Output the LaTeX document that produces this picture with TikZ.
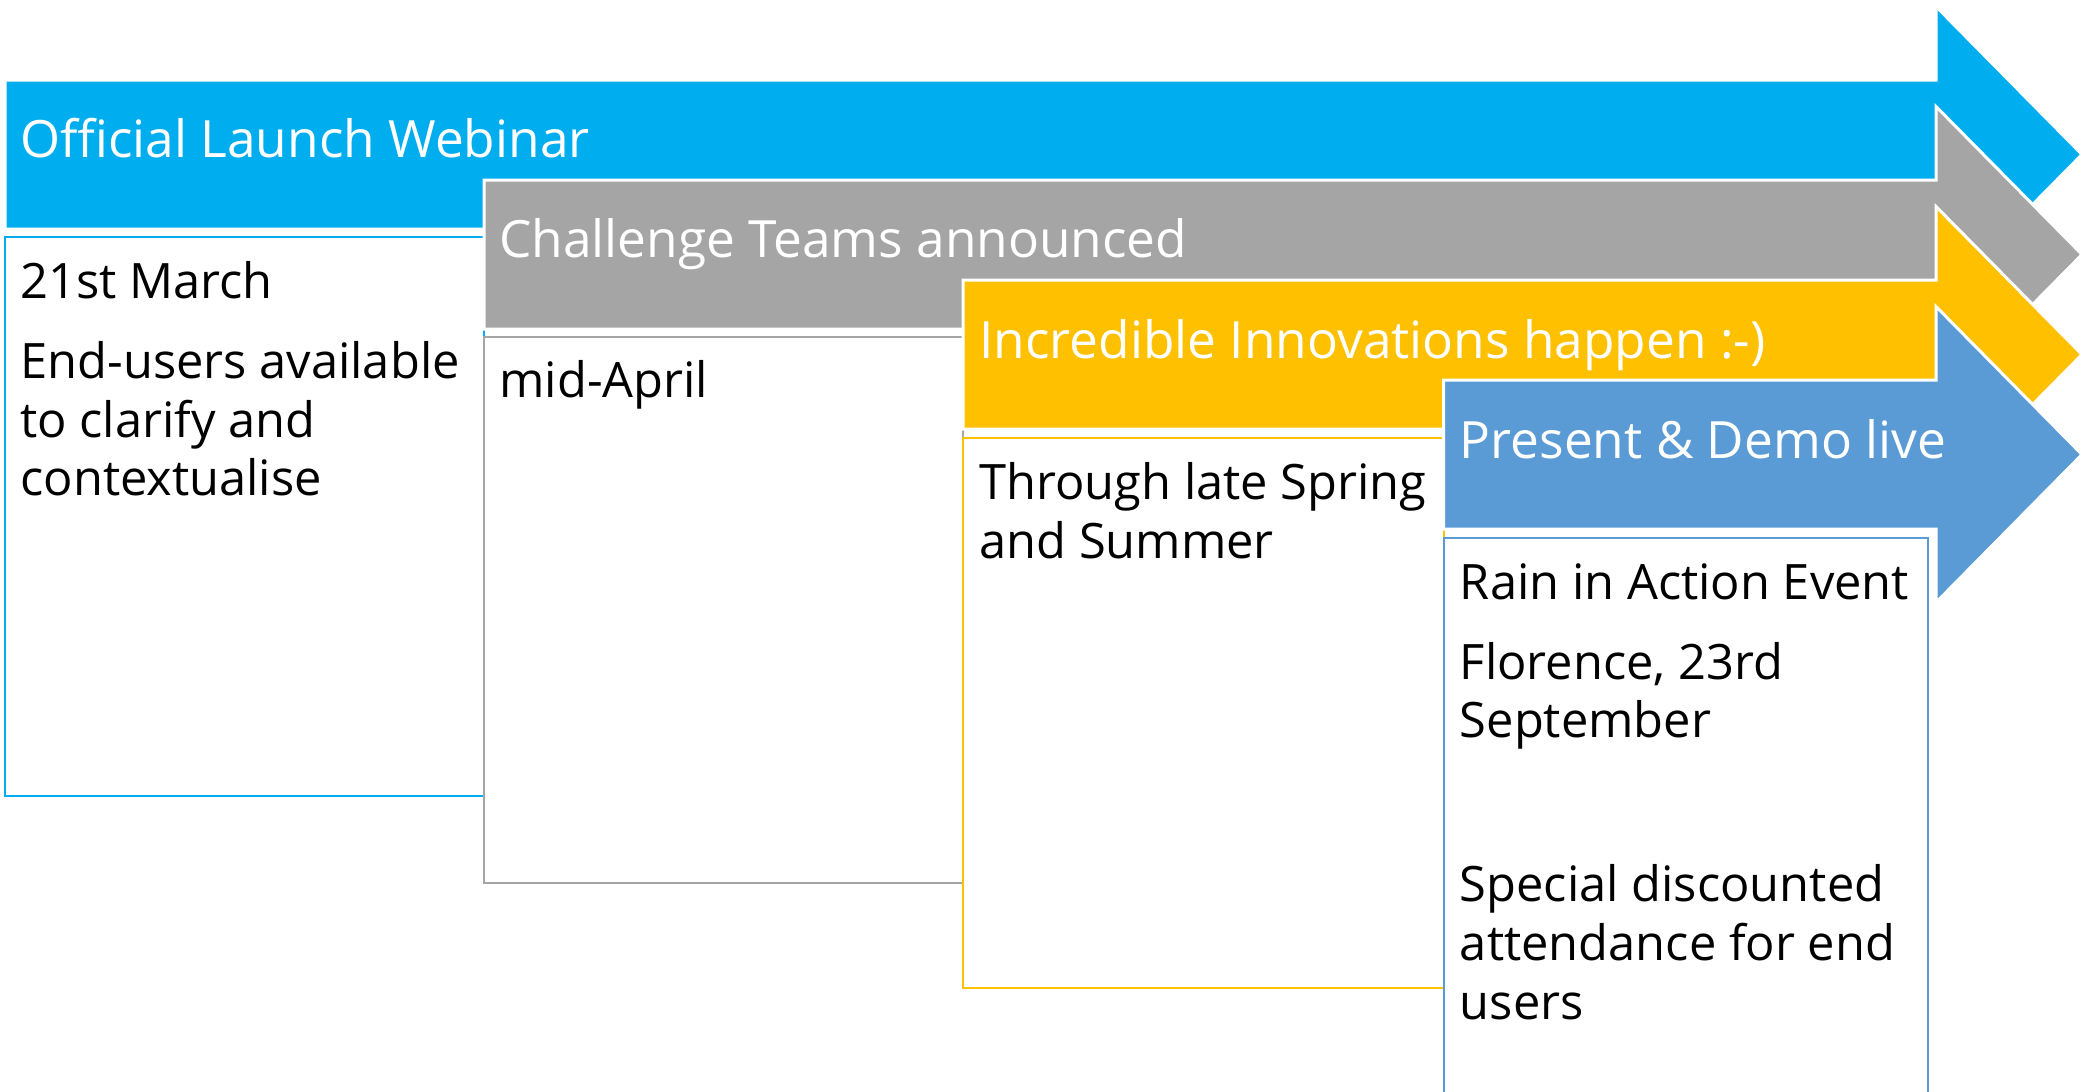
\documentclass[tikz,border=0pt]{standalone}
\usepackage{fontspec}
\setmainfont{Open Sans}
\usepackage{tikz}
\usetikzlibrary{positioning}

\definecolor{launchblue}{HTML}{00AEEF}
\definecolor{teamgrey}{HTML}{A5A5A5}
\definecolor{innogold}{HTML}{FFC000}
\definecolor{demoblue}{HTML}{5B9BD5}

\begin{document}
\begin{tikzpicture}[
    x=0.5pt, y=-0.5pt,
    stage/.style={draw=white, line width=1.5pt, line join=miter},
    card/.style={fill=white, line width=1pt},
    head/.style={anchor=base west, inner sep=0pt, text=white, font=\fontsize{25.7}{30}\selectfont},
    note/.style={anchor=base west, inner sep=0pt, align=left, font=\fontsize{24.4}{29.3}\selectfont}
]
\useasboundingbox (0,0) rectangle (2088,1092);
% stage 1
\draw[stage, fill=launchblue] (5,80) -- (1936,80) -- (1936,6.5) -- (2082,154.5) -- (1936,302.5) -- (1936,229) -- (5,229) -- cycle;
\node[head] (webinar) at (20,157) {Official Launch Webinar};
\draw[card, draw=launchblue] (5,237) rectangle (483.5,796);
\node[note] (march) at (20,495.7) {21st March\\[10.7pt]
    End-users available\\
    to clarify and\\
    contextualise};
% stage 2
\draw[stage, fill=teamgrey] (484,180) -- (1936,180) -- (1936,106.5) -- (2082,254.5) -- (1936,402.5) -- (1936,329) -- (484,329) -- cycle;
\node[head] (teams) at (499,257) {Challenge Teams announced};
\draw[card, draw=teamgrey] (484,337) rectangle (963,883);
\node[note] (april) at (499,397) {mid-April};
% stage 3
\draw[stage, fill=innogold] (963,280) -- (1936,280) -- (1936,206.5) -- (2082,354.5) -- (1936,502.5) -- (1936,429) -- (963,429) -- cycle;
\node[head] (innov) at (979,358) {Incredible Innovations happen :-)};
\draw[card, draw=innogold] (963,438) rectangle (1443.5,988);
\node[note] (summer) at (979,558) {Through late Spring\\
    and Summer};
% stage 4
\draw[stage, fill=demoblue] (1443.5,380) -- (1936,380) -- (1936,306.5) -- (2082,454.5) -- (1936,602.5) -- (1936,529) -- (1443.5,529) -- cycle;
\node[head] (demo) at (1459.5,458) {Present \& Demo live};
\draw[card, draw=demoblue] (1443.5,538) rectangle (1927.5,1110);
\node[note] (event) at (1459.5,1019) {Rain in Action Event\\[10.7pt]
    Florence, 23rd\\
    September\\[52.7pt]
    Special discounted\\
    attendance for end\\
    users};
\end{tikzpicture}
\end{document}
